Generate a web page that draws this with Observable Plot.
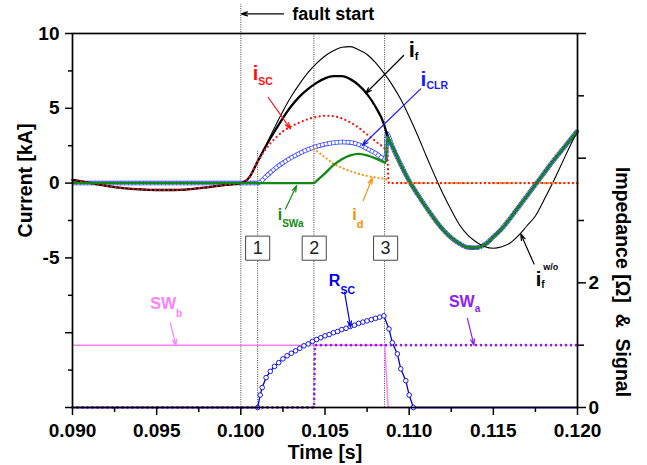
<!DOCTYPE html>
<html>
<head>
<meta charset="utf-8">
<script src="https://cdn.jsdelivr.net/npm/d3@7"></script>
<script src="https://cdn.jsdelivr.net/npm/@observablehq/plot@0.6"></script>
<style>
  html, body { margin: 0; padding: 0; background: #fff; }
</style>
</head>
<body>
<div id="chart"></div>
<script>
// ---------------- DATA ----------------
// time [s], current [kA]
const preFault = [
  [0.0900, 0.22], [0.0905, 0.12], [0.0910, 0.02], [0.0915, -0.08], [0.0920, -0.18],
  [0.0930, -0.33], [0.0940, -0.42], [0.0950, -0.46], [0.0960, -0.46], [0.0970, -0.40],
  [0.0980, -0.28], [0.0990, -0.13], [0.1000, 0.0]
];
// prospective fault current i_f w/o limiter
const iFwoPost = [
  [0.1005, 0.38], [0.1010, 1.45], [0.1015, 2.55], [0.1020, 3.7], [0.1025, 4.8], [0.1030, 5.8],
  [0.1035, 6.65], [0.1040, 7.4], [0.1045, 8.0], [0.1050, 8.5], [0.1055, 8.85], [0.1060, 9.08],
  [0.1065, 9.12], [0.1070, 8.92], [0.1075, 8.6], [0.1080, 8.05], [0.1085, 7.35], [0.1090, 6.55],
  [0.1095, 5.6], [0.1100, 4.45], [0.1105, 3.2], [0.1110, 1.85], [0.1115, 0.55], [0.1120, -0.7],
  [0.1125, -1.8], [0.1130, -2.8], [0.1135, -3.5], [0.1140, -3.95], [0.1145, -4.25], [0.1150, -4.35],
  [0.1155, -4.25], [0.1160, -4.0], [0.1165, -3.5], [0.1170, -2.85], [0.1175, -2.2], [0.1180, -1.15],
  [0.1185, -0.05], [0.1190, 1.15], [0.1195, 2.35], [0.1200, 3.5]
];
// common current after the commutation (i_f = i_CLR = i_SWa)
const afterSwitch = [
  [0.1090, 2.45], [0.1095, 1.25], [0.1100, 0.15], [0.1105, -0.75], [0.1110, -1.6], [0.1115, -2.4],
  [0.1120, -3.1], [0.1125, -3.65], [0.1130, -4.05], [0.1135, -4.3], [0.1140, -4.32], [0.1145, -4.1],
  [0.1150, -3.6], [0.1155, -3.05], [0.1160, -2.35], [0.1165, -1.6], [0.1170, -0.85], [0.1175, -0.1],
  [0.1180, 0.65], [0.1185, 1.4], [0.1190, 2.1], [0.1195, 2.8], [0.1200, 3.5]
];
// limited fault current i_f
const iFPost = [
  [0.1005, 0.38], [0.1010, 1.45], [0.1015, 2.5], [0.1020, 3.45], [0.1025, 4.35], [0.1030, 5.15],
  [0.1035, 5.8], [0.1040, 6.3], [0.1045, 6.7], [0.1050, 7.0], [0.1055, 7.15], [0.1060, 7.15],
  [0.1065, 6.95], [0.1070, 6.55], [0.1075, 5.95], [0.1080, 5.1], [0.1085, 3.95], [0.1087, 3.2]
];
// superconducting branch current i_SC
const iSCPost = [
  [0.1005, 0.38], [0.1010, 1.42], [0.1015, 2.3], [0.1020, 2.95], [0.1025, 3.45], [0.1030, 3.8],
  [0.1035, 4.05], [0.1040, 4.28], [0.1045, 4.42], [0.1050, 4.5], [0.1055, 4.47], [0.1060, 4.32],
  [0.1065, 4.05], [0.1070, 3.7], [0.1075, 3.25], [0.1080, 2.8], [0.1085, 2.35], [0.1086, 2.25],
  [0.1087, 2.1], [0.10878, 0.02], [0.1090, 0], [0.1200, 0]
];
// current limiting reactor branch i_CLR
const iCLR = [
  [0.0900, 0], [0.1010, 0], [0.1015, 0.45], [0.1020, 0.95], [0.1025, 1.35], [0.1030, 1.7],
  [0.1035, 2.0], [0.1040, 2.25], [0.1045, 2.45], [0.1050, 2.6], [0.1055, 2.7], [0.1060, 2.75],
  [0.1065, 2.72], [0.1070, 2.58], [0.1075, 2.3], [0.1080, 2.0], [0.1085, 1.6], [0.1086, 1.55],
  [0.1087, 3.3], [0.1088, 3.05]
];
// switch SWa current
const iSWa = [
  [0.0900, 0], [0.10435, 0], [0.1045, 0.15], [0.1050, 0.65], [0.1055, 1.2], [0.1060, 1.6],
  [0.1065, 1.85], [0.1070, 1.95], [0.1075, 1.85], [0.1080, 1.65], [0.1085, 1.4], [0.1086, 1.35],
  [0.1087, 3.1], [0.1088, 2.95]
];
// diode / bypass current i_d
const iD = [
  [0.10435, 2.3], [0.1045, 2.15], [0.1050, 1.72], [0.1055, 1.3], [0.1060, 1.02], [0.1065, 0.8],
  [0.1070, 0.62], [0.1075, 0.48], [0.1080, 0.37], [0.1085, 0.28], [0.1087, 0.22], [0.10885, 0.0],
  [0.1200, 0]
];
// time [s], impedance [Ohm] (right axis)
const rSC = [
  [0.0900, 0], [0.1010, 0], [0.10115, 0.2], [0.10127, 0.32], [0.1015, 0.48], [0.10175, 0.58],
  [0.1020, 0.66], [0.10225, 0.72], [0.1025, 0.78], [0.10275, 0.83], [0.1030, 0.87], [0.10325, 0.91],
  [0.1035, 0.95], [0.10375, 0.99], [0.1040, 1.02], [0.10425, 1.06], [0.1045, 1.09], [0.10475, 1.12],
  [0.1050, 1.15], [0.10525, 1.17], [0.1055, 1.2], [0.10575, 1.22], [0.1060, 1.25], [0.10625, 1.27],
  [0.1065, 1.3], [0.10675, 1.32], [0.1070, 1.35], [0.10725, 1.37], [0.1075, 1.39], [0.10775, 1.41],
  [0.1080, 1.43], [0.10825, 1.45], [0.1085, 1.47], [0.1088, 1.26], [0.1090, 1.04], [0.1093, 0.86],
  [0.1095, 0.62], [0.1098, 0.43], [0.1100, 0.2], [0.11025, 0], [0.1200, 0]
];
// time [s], switching signal (right axis)
const swB = [[0.0900, 1], [0.10855, 1], [0.10875, 0], [0.1200, 0]];
const swA = [[0.0900, 0], [0.10435, 0], [0.10440, 1], [0.1200, 1]];

// event instants and their marker numbers
const eventT = [0.1010, 0.10436, 0.10860];
const eventNames = ["1", "2", "3"];
const faultT = 0.1000;

// axis ticks
const xMajor = [0.090, 0.095, 0.100, 0.105, 0.110, 0.115, 0.120];
const xMinor = [0.0925, 0.0975, 0.1025, 0.1075, 0.1125, 0.1175];
const yMajor = [10, 5, 0, -5, -10, -15];
const yLabeled = [10, 5, 0, -5];
const yMinor = [7.5, 2.5, -2.5, -7.5, -12.5];
const rMajor = [0, 2, 4, 6];
const rMinor = [1, 3, 5];
const rLabeled = [0, 2];

// label texts
const labelMain = ["i", "i", "i", "i", "i", "i", "R", "SW", "SW"];
const labelSub  = ["f", "SC", "CLR", "SWa", "d", "f", "SC", "a", "b"];
const labelSup  = ["", "", "", "", "", "w/o", "", "", ""];

// ---------------- LAYOUT / STYLE ----------------
const W = 647, H = 465;
const toL = r => -15 + r * 25 / 6;             // right axis [0,6] -> left axis [-15,10]
const toR = v => (v + 15) * 6 / 25;
const pts = a => a.map(([t, v]) => ({t, v}));
const ptsR = a => a.map(([t, r]) => ({t, v: toL(r)}));

const C = {
  red: "#ff1010", blue: "#1a1aff", green: "#118a11", orange: "#ff8c00",
  pink: "#ff80ff", purple: "#9020f0", black: "#000"
};

const labelAt = [
  [0.10997, 8.42], [0.10071, 6.86], [0.11068, 6.52], [0.10219, -2.46], [0.10662, -2.46],
  [0.11752, -6.86], [0.10523, -6.86], [0.11236, -8.31], [0.09462, -8.40]
];
const labelStyle = [
  {size: 22, sub: 11, subDy: 3, color: C.black},
  {size: 20, sub: 10.5, subDy: 5, color: C.red},
  {size: 21, sub: 10.5, subDy: 3, color: C.blue},
  {size: 16, sub: 10, subDy: 7, color: C.green},
  {size: 16, sub: 11, subDy: 8, color: C.orange},
  {size: 20, sub: 10, subDy: 2, sup: 9, supDx: -1.3, supDy: -18, color: C.black},
  {size: 16, sub: 10.5, subDy: 8, color: "#0000ee"},
  {size: 16, sub: 10, subDy: 5, color: C.purple},
  {size: 16, sub: 10, subDy: 8, color: C.pink}
];
const labels = labelMain.map((m, i) => ({
  t: labelAt[i][0], v: labelAt[i][1], key: "@" + i,
  size: labelStyle[i].size, color: labelStyle[i].color
}));

const arrows = [
  {t1: 0.10967, v1: 8.53, t2: 0.10741, v2: 5.99, c: C.black},
  {t1: 0.10162, v1: 5.74, t2: 0.10295, v2: 3.63, c: C.red},
  {t1: 0.11068, v1: 6.30, t2: 0.10721, v2: 2.51, c: C.blue},
  {t1: 0.10265, v1: -1.73, t2: 0.10331, v2: -0.17, c: C.green},
  {t1: 0.10727, v1: -1.17, t2: 0.10781, v2: 0.35, c: C.orange},
  {t1: 0.11742, v1: -5.41, t2: 0.11663, v2: -3.40, c: C.black},
  {t1: 0.10616, v1: toL(1.85), t2: 0.10652, v2: toL(1.29), c: "#0000ee"},
  {t1: 0.11346, v1: toL(1.43), t2: 0.11385, v2: toL(1.0), c: C.purple},
  {t1: 0.09581, v1: toL(1.36), t2: 0.09615, v2: toL(0.99), c: C.pink},
  {t1: 0.10253, v1: 11.31, t2: faultT + 0.00003, v2: 11.31, c: C.black}
];

const rules = [
  {t: faultT, top: 11.95},
  {t: eventT[0], top: 2.17},
  {t: eventT[1] - 0.00002, top: 10},
  {t: 0.10854, top: 10}
];
const boxes = eventT.map((t, i) => ({t, v: -4.35, name: eventNames[i]}));

const dataFwo = pts(preFault.concat(iFwoPost));
const dataF = pts(preFault.concat(iFPost, afterSwitch));
const dataSC = pts(preFault.concat(iSCPost));
const dataCLR = pts(iCLR.concat(afterSwitch));
const dataSWa = pts(iSWa.concat(afterSwitch));
const dataD = pts(iD);
const dataR = ptsR(rSC);
const dataRdots = dataR.filter(d => d.t > 0.1009 && d.t < 0.1104);
const dataSWb = ptsR(swB);
const dataSWa2 = ptsR(swA);

const font = "'Liberation Sans', Arial, Helvetica, sans-serif";
const smooth = "monotone-x";
const sq = "#3a4cff";

const svg = Plot.plot({
  width: W, height: H,
  marginLeft: 72, marginRight: 70, marginTop: 33, marginBottom: 58,
  x: {domain: [0.09, 0.12]},
  y: {domain: [-15, 10]},
  color: {type: "identity"},
  style: {fontFamily: font, background: "#fff", overflow: "visible"},
  marks: [
    // event lines
    Plot.ruleX(rules, {x: "t", y1: () => -15, y2: "top", stroke: "#3a3a3a", strokeWidth: 1, strokeDasharray: "1,1.3"}),
    // switch signals
    Plot.line(dataSWb, {x: "t", y: "v", stroke: C.pink, strokeWidth: 1.5}),
    // R_SC
    Plot.line(dataR, {x: "t", y: "v", stroke: "#0000dd", strokeWidth: 1.3}),
    Plot.dot(dataRdots, {x: "t", y: "v", r: 2.3, stroke: "#0000dd", strokeWidth: 0.9, fill: "white"}),
    Plot.line(dataSWa2, {x: "t", y: "v", stroke: C.purple, strokeWidth: 2.8, strokeDasharray: "0,5", strokeLinecap: "round"}),
    // i_CLR : chain of open squares
    Plot.line(dataCLR, {x: "t", y: "v", curve: smooth, stroke: sq, strokeWidth: 4.5, strokeLinecap: "butt"}),
    Plot.line(dataCLR, {x: "t", y: "v", curve: smooth, stroke: "white", strokeWidth: 2.9, strokeLinecap: "butt"}),
    Plot.line(dataCLR, {x: "t", y: "v", curve: smooth, stroke: sq, strokeWidth: 4.5, strokeDasharray: "0.8,2.9", strokeLinecap: "butt", strokeLinejoin: "miter"}),
    // fault currents
    Plot.line(dataFwo, {x: "t", y: "v", curve: smooth, stroke: C.black, strokeWidth: 1.1}),
    Plot.line(dataF, {x: "t", y: "v", curve: smooth, stroke: C.black, strokeWidth: 2.3}),
    Plot.line(dataD, {x: "t", y: "v", curve: smooth, stroke: C.orange, strokeWidth: 2.2, strokeDasharray: "0,4", strokeLinecap: "round"}),
    Plot.line(dataSC, {x: "t", y: "v", curve: smooth, stroke: C.red, strokeWidth: 2.3, strokeDasharray: "0,4.4", strokeLinecap: "round"}),
    Plot.line(dataSWa, {x: "t", y: "v", curve: smooth, stroke: C.green, strokeWidth: 2.3}),
    // numbered boxes
    Plot.dot(boxes, {x: "t", y: "v", symbol: "square", r: 13.6, fill: "white", stroke: "#444", strokeWidth: 1}),
    Plot.text(boxes, {x: "t", y: "v", text: "name", fontSize: 18, fontWeight: "normal", fill: "#222"}),
    // annotation arrows
    Plot.arrow(arrows, {x1: "t1", y1: "v1", x2: "t2", y2: "v2", stroke: "c", strokeWidth: 1.2, headLength: 8, headAngle: 36}),
    // labels
    Plot.text(labels, {x: "t", y: "v", text: "key", fill: "color", fontSize: "size", fontWeight: "bold", textAnchor: "start", lineAnchor: "bottom"}),
    Plot.text(["fault start"], {x: () => 0.10306, y: () => 10.87, fontSize: 18, fontWeight: "bold", textAnchor: "start", lineAnchor: "bottom", fill: "#000"}),
    // axes
    Plot.axisX({ticks: xMajor, tickSize: 8, tickPadding: 8, tickFormat: d3.format(".3f"), fontSize: 19, fontWeight: "bold", strokeWidth: 1.5, label: null}),
    Plot.axisX({ticks: xMinor, tickSize: 5, tickFormat: () => "", strokeWidth: 1.5, label: null}),
    Plot.axisY({anchor: "left", ticks: yMajor, tickSize: 7, tickPadding: 6, tickFormat: d => yLabeled.includes(d) ? String(d) : "", fontSize: 19, fontWeight: "bold", strokeWidth: 1.5, label: null}),
    Plot.axisY({anchor: "left", ticks: yMinor, tickSize: 4, tickFormat: () => "", strokeWidth: 1.5, label: null}),
    Plot.axisY({anchor: "right", ticks: rMajor.map(toL), tickSize: 8, tickPadding: 3, tickFormat: v => { const r = Math.round(toR(v)); return rLabeled.includes(r) ? String(r) : ""; }, fontSize: 19, fontWeight: "bold", strokeWidth: 1.5, label: null}),
    Plot.axisY({anchor: "right", ticks: rMinor.map(toL), tickSize: 6, tickFormat: () => "", strokeWidth: 1.5, label: null}),
    Plot.frame({stroke: "#000", strokeWidth: 1.7}),
    // axis titles
    Plot.text(["Current [kA]"], {frameAnchor: "top-left", dx: -47, dy: 147, rotate: -90, textAnchor: "middle", lineAnchor: "middle", fontSize: 19.5, fontWeight: "bold", fill: "#000"}),
    Plot.text(["Impedance [\u03A9]\u00a0\u00a0&\u00a0\u00a0Signal"], {frameAnchor: "top-right", dx: 45, dy: 248.5, rotate: 90, textAnchor: "middle", lineAnchor: "middle", fontSize: 19.5, fontWeight: "bold", fill: "#000"}),
    Plot.text(["Time [s]"], {frameAnchor: "bottom", dy: 51, textAnchor: "middle", lineAnchor: "bottom", fontSize: 19.5, fontWeight: "bold", fill: "#000"})
  ]
});

// build subscripts / superscripts for the curve labels
const NS = "http://www.w3.org/2000/svg";
svg.querySelectorAll("text").forEach(el => {
  const s = el.textContent;
  if (!/^@\d+$/.test(s)) return;
  const k = +s.slice(1);
  const st = labelStyle[k];
  el.textContent = "";
  const add = (txt, attrs) => {
    const ts = document.createElementNS(NS, "tspan");
    ts.textContent = txt;
    for (const a in attrs) ts.setAttribute(a, attrs[a]);
    el.appendChild(ts);
  };
  add(labelMain[k], {});
  if (labelSub[k]) add(labelSub[k], {"font-size": st.sub, dy: st.subDy});
  if (labelSup[k]) add(labelSup[k], {"font-size": st.sup, dx: st.supDx, dy: st.supDy});
});

document.getElementById("chart").appendChild(svg);
</script>
</body>
</html>
